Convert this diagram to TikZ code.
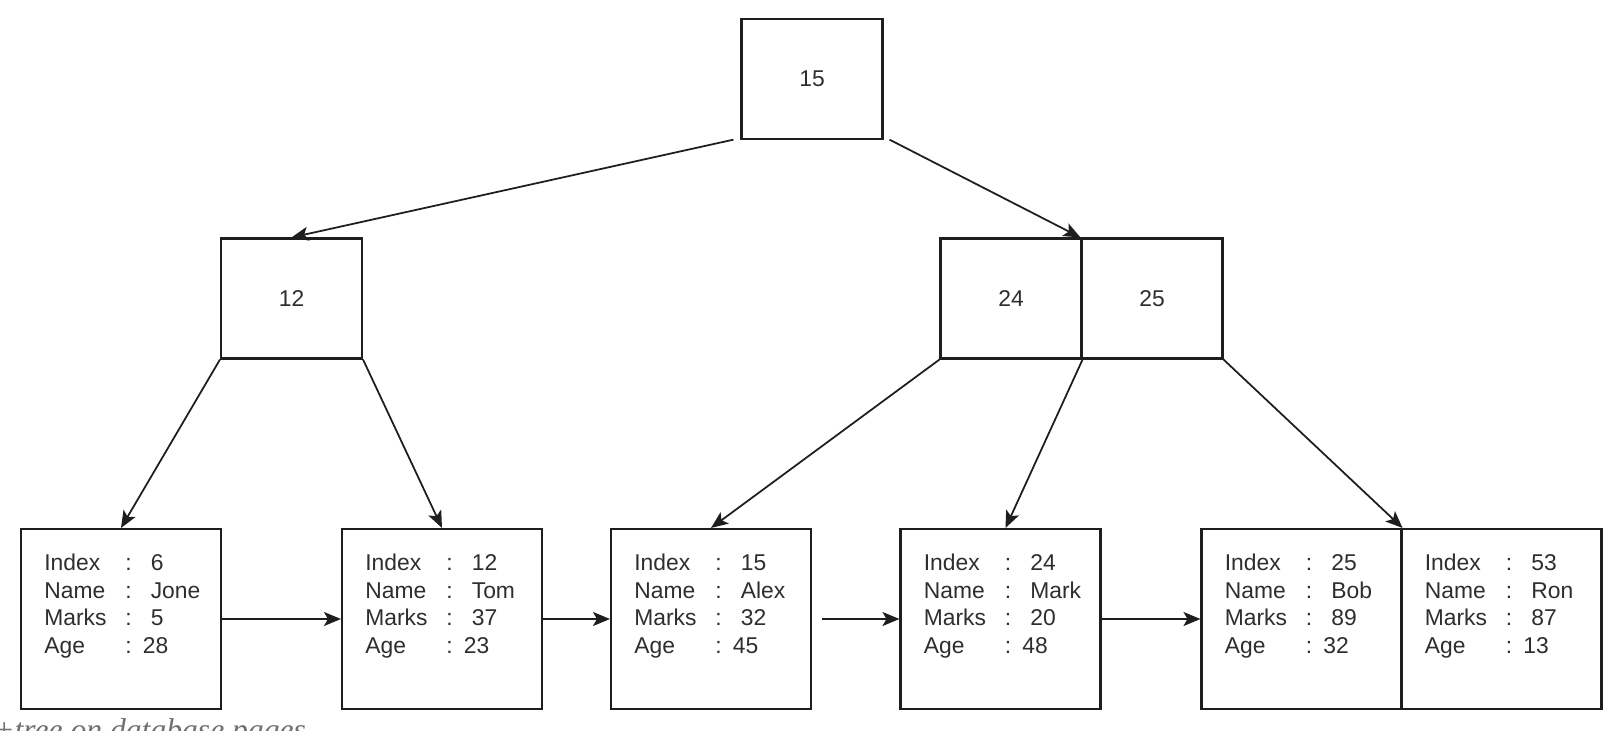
\documentclass[tikz,border=0pt]{standalone}
\usepackage{fontspec}
\setmainfont{Liberation Sans}
\newfontfamily\capfont{Liberation Serif}
\usetikzlibrary{arrows.meta}

\definecolor{ink}{HTML}{1E1E1E}
\definecolor{txt}{HTML}{2E2E2E}
\definecolor{capgray}{HTML}{707070}

\newcommand{\leafrec}[4]{%
  \begin{tabular}[t]{@{}l@{\hspace{0.38cm}}l@{\hspace{0.38cm}}l@{}}
    Index & : & #1\\
    Name  & : & #2\\
    Marks & : & #3\\
    Age   & : & \hspace{-0.16cm}#4
  \end{tabular}}

\begin{document}
\begin{tikzpicture}[x=0.02cm, y=-0.02cm,
  box/.style={draw=ink, line width=1.2pt, minimum width=2.82cm, minimum height=2.4cm,
    inner sep=0, text=txt, font=\fontsize{13}{15.6}\selectfont},
  leaf/.style={draw=ink, line width=1.2pt, minimum width=4cm, minimum height=3.6cm, inner sep=0},
  rec/.style={anchor=base west, inner sep=0, text=txt, font=\fontsize{13}{15.6}\selectfont},
  link/.style={draw=ink, line width=1pt, -{Stealth[length=0.34cm, width=0.28cm, inset=0.08cm]}}]

\useasboundingbox[fill=white] (0,0) rectangle (1618,730);

% index nodes
\node[box] (root) at (812,78.6) {15};
\node[box] (n12) at (291.5,298.5) {12};
\node[box] (n24) at (1011,298.5) {24};
\node[box] (n25) at (1152,298.5) {25};

% leaf pages
\node[leaf] (l1) at (121,619) {};
\node[leaf] (l2) at (442,619) {};
\node[leaf] (l3) at (711,619) {};
\node[leaf] (l4) at (1000.5,619) {};
\node[leaf] (l5) at (1301.5,619) {};
\node[leaf] (l6) at (1501.5,619) {};

% records
\node[rec] (r1) at ([shift={(24,43)}]l1.north west) {\leafrec{6}{Jone}{5}{28}};
\node[rec] (r2) at ([shift={(24,43)}]l2.north west) {\leafrec{12}{Tom}{37}{23}};
\node[rec] (r3) at ([shift={(24,43)}]l3.north west) {\leafrec{15}{Alex}{32}{45}};
\node[rec] (r4) at ([shift={(24,43)}]l4.north west) {\leafrec{24}{Mark}{20}{48}};
\node[rec] (r5) at ([shift={(24,43)}]l5.north west) {\leafrec{25}{Bob}{89}{32}};
\node[rec] (r6) at ([shift={(24,43)}]l6.north west) {\leafrec{53}{Ron}{87}{13}};

% tree pointers
  \draw[link] ([xshift=-0.14cm]root.south west) -- (n12.north);
  \draw[link] ([xshift=0.12cm]root.south east) -- (n25.north west);
  \draw[link] (n12.south west) -- (l1.north);
  \draw[link] (n12.south east) -- (l2.north);
  \draw[link] (n24.south west) -- (l3.north);
  \draw[link] (n24.south east) -- ([xshift=0.1cm]l4.north);
  \draw[link] (n25.south east) -- (l5.north east);

% leaf chain
  \draw[link] (l1.east) -- (l2.west);
  \draw[link] (l2.east) -- (l3.west);
  \draw[link] ([xshift=0.2cm]l3.east) -- (l4.west);
  \draw[link] (l4.east) -- (l5.west);

% caption
\node[anchor=base west, inner sep=0, text=capgray, font=\capfont\itshape\fontsize{18}{20}\selectfont] (cap) at (-7,740) {+tree on database pages};

\end{tikzpicture}
\end{document}
